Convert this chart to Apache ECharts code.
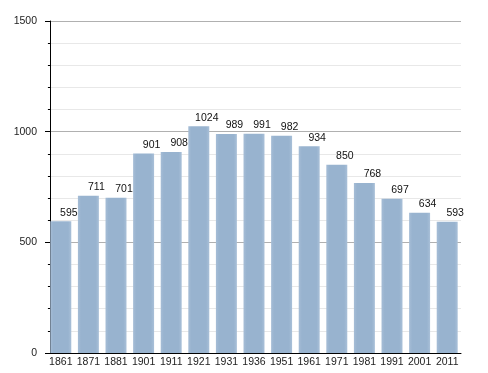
<!DOCTYPE html>
<html><head><meta charset="utf-8">
<script src="https://cdn.jsdelivr.net/npm/echarts@6/dist/echarts.min.js"></script>
<style>html,body{margin:0;padding:0;background:#fff}#c{width:488px;height:373px}</style>
</head><body><div id="c"></div>
<script>
var categories = ['1861','1871','1881','1901','1911','1921','1931','1936','1951','1961','1971','1981','1991','2001','2011'];
var values = [595,711,701,901,908,1024,989,991,982,934,850,768,697,634,593];
var yTicks = [0,500,1000,1500];

var FONT = 'Liberation Sans, Arial, sans-serif';
var chart = echarts.init(document.getElementById('c'));
chart.setOption({
  animation:false,
  grid:{left:47, right:27, top:21, bottom:20},
  xAxis:{type:'category', data:categories,
    axisLine:{lineStyle:{color:'#000', width:1}},
    axisTick:{show:false},
    axisLabel:{interval:0, color:'#222', fontSize:10.5, fontFamily:FONT, margin:4}},
  yAxis:{type:'value', min:yTicks[0], max:yTicks[yTicks.length-1], interval:500, offset:-3,
    axisLine:{show:true, lineStyle:{color:'#000', width:1}},
    axisTick:{show:true, length:5, lineStyle:{color:'#000'}},
    minorTick:{show:true, splitNumber:5, length:2, lineStyle:{color:'#000'}},
    splitLine:{show:true, lineStyle:{color:'#b0b0b0', width:1}},
    minorSplitLine:{show:true, lineStyle:{color:'#e8e8e8', width:1}},
    axisLabel:{color:'#222', fontSize:10.5, fontFamily:FONT, margin:13,
      formatter:function(v){return String(v);}}},
  series:[{type:'bar', data:values, barCategoryGap:'24%',
    itemStyle:{color:{type:'linear', x:0, y:0, x2:1, y2:0, colorStops:[
      {offset:0, color:'#a6bdd6'},{offset:0.15, color:'#98b3cf'},{offset:0.85, color:'#98b3cf'},{offset:1, color:'#a9c0d8'}]}},
    label:{show:true, position:'top', distance:3, offset:[8,0], color:'#111', fontSize:10.5,
      fontFamily:FONT}
  }]
});
</script></body></html>
